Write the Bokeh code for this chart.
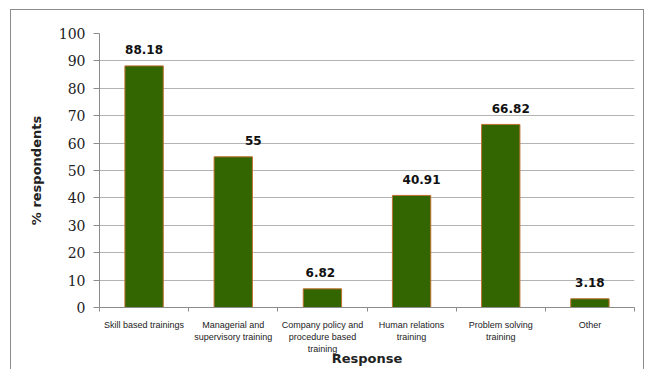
from bokeh.plotting import figure
from bokeh.models import ColumnDataSource, FixedTicker, Range1d
from bokeh.core.properties import value
from bokeh.embed import file_html
from bokeh.resources import INLINE

# ---- data ----
categories = [
    "Skill based trainings",
    "Managerial and\nsupervisory training",
    "Company policy and\nprocedure based\ntraining",
    "Human relations\ntraining",
    "Problem solving\ntraining",
    "Other",
]
percent = [88.18, 55, 6.82, 40.91, 66.82, 3.18]
value_labels = ["88.18", "55", "6.82", "40.91", "66.82", "3.18"]
y_ticks = [0, 10, 20, 30, 40, 50, 60, 70, 80, 90, 100]

# style-only: horizontal nudge of the value labels (pixels)
label_dx = [0, 20, -2, 10, 10, 0]

xs = [i + 0.5 for i in range(len(categories))]
src = ColumnDataSource(dict(x=xs, y=percent, lab=value_labels, dx=label_dx))

p = figure(
    width=632, height=359,
    x_range=Range1d(0, len(categories)), y_range=Range1d(0, 100),
    output_backend="svg", toolbar_location=None,
    min_border_left=88, min_border_right=9, min_border_top=23, min_border_bottom=62,
)
p.margin = (10, 0, 0, 11)
p.styles = {"box-shadow": "-1px 0 0 0 #8c8c8c, 1px 0 0 0 #8c8c8c, 0 -1px 0 0 #8c8c8c, -1px -1px 0 0 #8c8c8c, 1px -1px 0 0 #8c8c8c"}
p.outline_line_color = None
p.background_fill_color = "white"
p.border_fill_color = "white"

p.vbar(x="x", top="y", width=0.43, bottom=0, source=src,
       fill_color="#336600", line_color="#C0702F", line_width=1)

p.text(x="x", y="y", text="lab", x_offset="dx", y_offset=-16, source=src,
       text_align="center", text_baseline="middle",
       text_font=value("DejaVu Sans"), text_font_style="bold",
       text_font_size="12px", text_color="#111111")

# y axis
p.yaxis.ticker = FixedTicker(ticks=y_ticks)
p.yaxis.axis_line_color = "#8c8c8c"
p.yaxis.major_tick_line_color = "#8c8c8c"
p.yaxis.major_tick_out = 6
p.yaxis.major_tick_in = 0
p.yaxis.minor_tick_line_color = None
p.yaxis.major_label_standoff = 8
p.yaxis.major_label_text_font = "DejaVu Serif"
p.yaxis.major_label_text_font_size = "14px"
p.yaxis.major_label_text_color = "#222222"
p.yaxis.axis_label = "% respondents"
p.yaxis.axis_label_text_font = "DejaVu Sans"
p.yaxis.axis_label_text_font_style = "bold"
p.yaxis.axis_label_text_font_size = "13px"
p.yaxis.axis_label_text_color = "#222222"
p.yaxis.axis_label_standoff = 12

# x axis: labels at category centres, ticks at category boundaries
p.xaxis.ticker = FixedTicker(ticks=xs, minor_ticks=list(range(len(categories) + 1)))
p.xaxis.major_label_overrides = {x: c for x, c in zip(xs, categories)}
p.xaxis.axis_line_color = "#8c8c8c"
p.xaxis.major_tick_line_color = None
p.xaxis.major_tick_out = 0
p.xaxis.major_tick_in = 0
p.xaxis.minor_tick_line_color = "#8c8c8c"
p.xaxis.minor_tick_out = 4
p.xaxis.minor_tick_in = 0
p.xaxis.major_label_standoff = 8
p.xaxis.major_label_text_font = "Liberation Sans"
p.xaxis.major_label_text_font_size = "9px"
p.xaxis.major_label_text_color = "#222222"
p.xaxis.axis_label = "Response"
p.xaxis.axis_label_text_font = "DejaVu Sans"
p.xaxis.axis_label_text_font_style = "bold"
p.xaxis.axis_label_text_font_size = "13px"
p.xaxis.axis_label_text_color = "#222222"
p.xaxis.axis_label_standoff = -6

# grid
p.xgrid.grid_line_color = None
p.ygrid.ticker = FixedTicker(ticks=y_ticks[1:-1])
p.ygrid.grid_line_color = "#b3b3b3"
p.ygrid.grid_line_width = 1

open("out.html", "w").write(file_html(p, INLINE))
